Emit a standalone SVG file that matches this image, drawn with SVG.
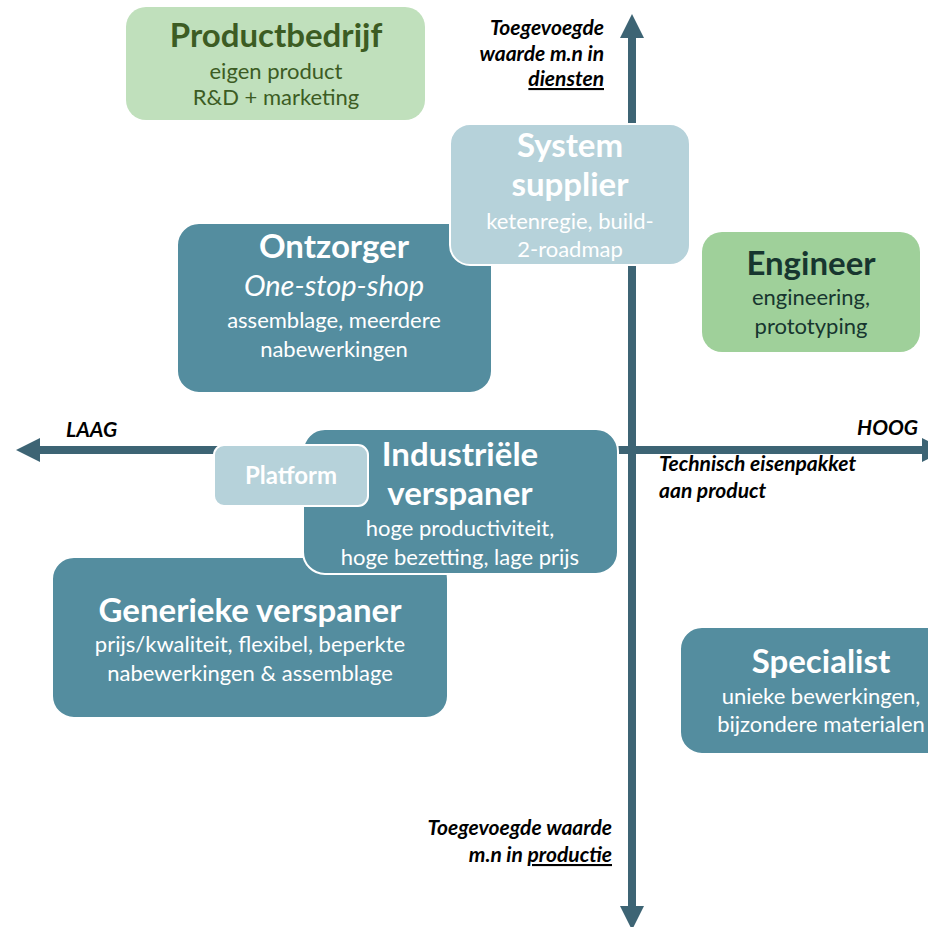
<svg xmlns="http://www.w3.org/2000/svg" width="928" height="927" viewBox="0 0 928 927">
<style>
  text { font-family: Lato, "Liberation Sans", sans-serif; }
  .t { font-weight: bold; font-size: 33px; text-anchor: middle; }
  .s { font-size: 22px; text-anchor: middle; }
  .m { text-anchor: middle; }
  .w { fill: #ffffff; }
  .teal { fill: #548d9f; stroke: #ffffff; stroke-width: 2; }
  .lb { fill: #b6d2da; stroke: #ffffff; stroke-width: 2; }
  .ax { font-weight: bold; font-style: italic; font-size: 21px; fill: #000000; }
  .end { text-anchor: end; }
  .start { text-anchor: start; }
  .axis { stroke: #3d6474; stroke-width: 8; fill: none; }
</style>
<defs>
  <marker id="ah" markerUnits="userSpaceOnUse" markerWidth="24" markerHeight="24" refX="0" refY="12" orient="auto-start-reverse">
    <path d="M0,0 L24,12 L0,24 z" fill="#3d6474"/>
  </marker>
</defs>
<rect width="928" height="927" fill="#ffffff"/>
<g id="connectors">
  <line class="axis" x1="632" y1="906" x2="632" y2="38" marker-start="url(#ah)" marker-end="url(#ah)"/>
  <line class="axis" x1="40" y1="450" x2="922" y2="450" stroke-width="7" marker-start="url(#ah)" marker-end="url(#ah)"/>
</g>
<g id="productbedrijf">
  <rect x="126" y="7" width="299" height="113" rx="20" fill="#c0e0bc"/>
  <text class="t" x="276" y="47" fill="#3c5c23">Productbedrijf</text>
  <text class="s" x="276" y="79" fill="#3c5c23">eigen product</text>
  <text class="s" x="276" y="105" fill="#3c5c23">R&amp;D + marketing</text>
</g>
<g id="ontzorger">
  <rect class="teal" x="177" y="223" width="315" height="170" rx="22"/>
  <text class="t w" x="334" y="258">Ontzorger</text>
  <text class="w m" x="334" y="296" font-size="29" font-style="italic">One-stop-shop</text>
  <text class="s w" x="334" y="328">assemblage, meerdere</text>
  <text class="s w" x="334" y="357">nabewerkingen</text>
</g>
<g id="system-supplier">
  <rect class="lb" x="450" y="124" width="240" height="141" rx="20"/>
  <text class="t w" x="570" y="157">System</text>
  <text class="t w" x="570" y="196">supplier</text>
  <text class="s w" x="570" y="229">ketenregie, build-</text>
  <text class="s w" x="570" y="257">2-roadmap</text>
</g>
<g id="engineer">
  <rect x="702" y="232" width="218" height="120" rx="20" fill="#9fd09a"/>
  <text class="t" x="811" y="275" fill="#17362f">Engineer</text>
  <text class="s" x="811" y="305" fill="#17362f">engineering,</text>
  <text class="s" x="811" y="334" fill="#17362f">prototyping</text>
</g>
<g id="generieke-verspaner">
  <rect class="teal" x="52" y="557" width="396" height="161" rx="22"/>
  <text class="t w" x="250" y="622">Generieke verspaner</text>
  <text class="s w" x="250" y="652">prijs/kwaliteit, flexibel, beperkte</text>
  <text class="s w" x="250" y="681">nabewerkingen &amp; assemblage</text>
</g>
<g id="industriele-verspaner">
  <rect class="teal" x="303" y="429" width="315" height="145" rx="22"/>
  <text class="t w" x="460" y="466">Industriële</text>
  <text class="t w" x="460" y="505">verspaner</text>
  <text class="s w" x="460" y="536">hoge productiviteit,</text>
  <text class="s w" x="460" y="565">hoge bezetting, lage prijs</text>
</g>
<g id="platform">
  <rect class="lb" x="214" y="445" width="154" height="61" rx="10"/>
  <text class="w m" x="291" y="484" font-size="24" font-weight="bold">Platform</text>
</g>
<g id="specialist">
  <rect class="teal" x="680" y="627" width="282" height="127" rx="22"/>
  <text class="t w" x="821" y="673">Specialist</text>
  <text class="s w" x="821" y="704">unieke bewerkingen,</text>
  <text class="s w" x="821" y="732">bijzondere materialen</text>
</g>
<g id="axis-labels">
  <text class="ax end" x="604" y="35">Toegevoegde</text>
  <text class="ax end" x="604" y="61">waarde m.n in</text>
  <text class="ax end" x="604" y="86" text-decoration="underline">diensten</text>
  <text class="ax start" x="66" y="437">LAAG</text>
  <text class="ax end" x="918" y="435">HOOG</text>
  <text class="ax start" x="659" y="471">Technisch eisenpakket</text>
  <text class="ax start" x="659" y="498">aan product</text>
  <text class="ax end" x="612" y="835">Toegevoegde waarde</text>
  <text class="ax end" x="612" y="862">m.n in <tspan text-decoration="underline">productie</tspan></text>
</g>
</svg>
